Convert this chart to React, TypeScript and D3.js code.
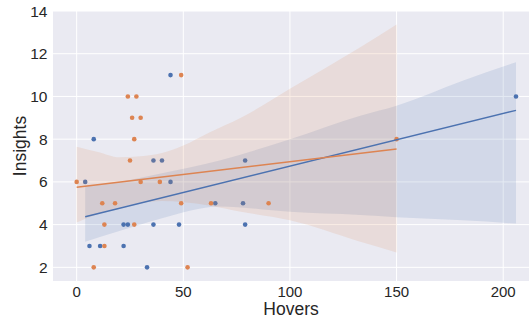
import { useEffect, useRef } from "react";
import * as d3 from "d3";

// hovers / insights per group
const blueHovers = [8, 4, 6, 11, 22, 24, 22, 44, 36, 40, 44, 36, 48, 33, 79, 65, 78, 79, 206];
const blueInsights = [8, 6, 3, 3, 4, 4, 3, 11, 7, 7, 6, 4, 4, 2, 7, 5, 5, 4, 10];
const orangeHovers = [0, 12, 18, 13, 27, 13, 8, 25, 30, 39, 24, 28, 26, 30, 27, 49, 49, 52, 63, 90, 150];
const orangeInsights = [6, 5, 5, 4, 4, 3, 2, 7, 6, 6, 10, 10, 9, 9, 8, 11, 5, 2, 5, 5, 8];

// confidence band edges
const blueBandX = [4, 20, 40, 67, 100, 133, 150, 181, 206];
const blueBandHi = [5.8, 6.0, 6.4, 7.0, 8.0, 9.1, 9.57, 10.74, 11.6];
const blueBandLo = [3.2, 3.7, 4.3, 4.85, 4.6, 4.45, 4.35, 4.2, 4.05];
const orangeBandX = [0, 10, 20, 30, 40, 50, 62, 77, 100, 133, 150];
const orangeBandHi = [7.65, 7.4, 7.15, 7.2, 7.35, 7.7, 8.3, 9.0, 10.36, 12.3, 13.37];
const orangeBandLo = [4.1, 4.5, 4.8, 5.0, 5.1, 5.05, 4.9, 4.6, 4.2, 3.2, 2.7];

const xTicks = [0, 50, 100, 150, 200];
const yTicks = [2, 4, 6, 8, 10, 12, 14];

const BLUE = "#4c72b0";
const ORANGE = "#dd8452";

function fit(xs: number[], ys: number[]) {
  const mx = d3.mean(xs)!, my = d3.mean(ys)!;
  let sxy = 0, sxx = 0;
  xs.forEach((x, i) => { sxy += (x - mx) * (ys[i] - my); sxx += (x - mx) * (x - mx); });
  const b = sxy / sxx;
  return { b, a: my - b * mx };
}

export default function App() {
  const ref = useRef<SVGSVGElement>(null);

  useEffect(() => {
    const svg = d3.select(ref.current);
    svg.selectAll("*").remove();
    const font = "'Liberation Sans', Arial, sans-serif";
    const left = 53, right = 529, top = 11, bottom = 281;

    const x = d3.scaleLinear().domain([-11.1, 212.1]).range([left, right]);
    const y = d3.scaleLinear().domain([1.36, 14]).range([bottom, top]);

    svg.append("rect").attr("x", left).attr("y", top)
      .attr("width", right - left).attr("height", bottom - top).attr("fill", "#eaeaf2");

    const grid = svg.append("g").attr("stroke", "#fff").attr("stroke-width", 1);
    xTicks.forEach(t => grid.append("line").attr("x1", x(t)).attr("x2", x(t)).attr("y1", top).attr("y2", bottom));
    yTicks.forEach(t => grid.append("line").attr("y1", y(t)).attr("y2", y(t)).attr("x1", left).attr("x2", right));

    const series = [
      { xs: blueHovers, ys: blueInsights, bx: blueBandX, hi: blueBandHi, lo: blueBandLo, color: BLUE },
      { xs: orangeHovers, ys: orangeInsights, bx: orangeBandX, hi: orangeBandHi, lo: orangeBandLo, color: ORANGE },
    ];

    const band = d3.area<number>()
      .x(d => x(d))
      .curve(d3.curveMonotoneX);

    series.forEach(s => {
      svg.append("g").selectAll("circle").data(s.xs).join("circle")
        .attr("cx", d => x(d)).attr("cy", (_, i) => y(s.ys[i]))
        .attr("r", 2.3).attr("fill", s.color);
      svg.append("path").datum(s.bx)
        .attr("d", band.y0((_, i) => y(s.lo[i])).y1((_, i) => y(s.hi[i])))
        .attr("fill", s.color).attr("fill-opacity", 0.15);
    });

    series.forEach(s => {
      const { a, b } = fit(s.xs, s.ys);
      const [x0, x1] = d3.extent(s.xs) as [number, number];
      svg.append("line")
        .attr("x1", x(x0)).attr("y1", y(a + b * x0))
        .attr("x2", x(x1)).attr("y2", y(a + b * x1))
        .attr("stroke", s.color).attr("stroke-width", 1.5);
    });

    svg.append("g").selectAll("text").data(xTicks).join("text")
      .attr("x", d => x(d)).attr("y", bottom + 15.5)
      .attr("text-anchor", "middle").attr("font-family", font).attr("font-size", 15)
      .attr("fill", "#262626").text(d => d);

    svg.append("g").selectAll("text").data(yTicks).join("text")
      .attr("x", left - 5.5).attr("y", d => y(d)).attr("dy", "0.36em")
      .attr("text-anchor", "end").attr("font-family", font).attr("font-size", 15.5)
      .attr("fill", "#262626").text(d => d);

    svg.append("text").attr("x", (left + right) / 2).attr("y", 315)
      .attr("text-anchor", "middle").attr("font-family", font).attr("font-size", 17.5)
      .attr("fill", "#262626").text("Hovers");

    svg.append("text").attr("transform", `translate(26,${(top + bottom) / 2}) rotate(-90)`)
      .attr("text-anchor", "middle").attr("font-family", font).attr("font-size", 17.5)
      .attr("fill", "#262626").text("Insights");
  }, []);

  return <svg ref={ref} width={530} height={322} style={{ position: "absolute", left: 0, top: 0 }} />;
}
